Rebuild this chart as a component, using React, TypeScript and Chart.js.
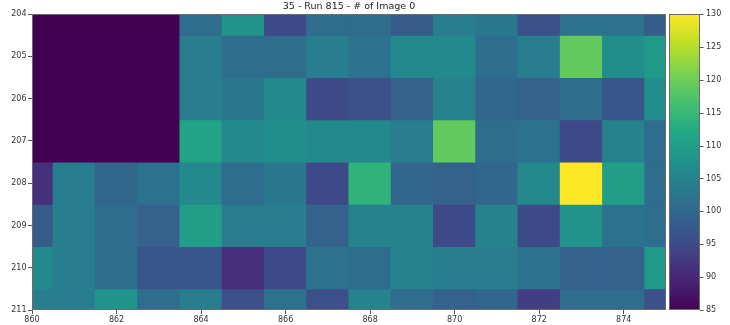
import { useEffect, useRef } from 'react';
import { Chart, registerables } from 'chart.js';

Chart.register(...registerables);

const TITLE = '35 - Run 815 - # of Image 0';

// Pixel columns (x) and rows (y) of the image.
const columns = [860, 861, 862, 863, 864, 865, 866, 867, 868, 869, 870, 871, 872, 873, 874, 875];
const rows = [204, 205, 206, 207, 208, 209, 210, 211];

// Counts per pixel, one array per row, ordered by column.
const row204 = [85, 85, 85, 85, 101, 108, 95, 101, 101, 98, 104, 103, 96, 102, 102, 98];
const row205 = [85, 85, 85, 85, 104, 101, 101, 104, 102, 106, 106, 101, 104, 119, 107, 109];
const row206 = [85, 85, 85, 85, 104, 103, 106, 95, 96, 99, 105, 100, 99, 101, 97, 107];
const row207 = [85, 85, 85, 85, 111, 106, 107, 106, 106, 104, 119, 101, 102, 95, 105, 101];
const row208 = [91, 104, 100, 102, 106, 101, 103, 95, 114, 100, 99, 100, 106, 130, 110, 101];
const row209 = [98, 104, 101, 99, 110, 104, 104, 99, 105, 105, 95, 105, 95, 108, 102, 101];
const row210 = [106, 104, 101, 97, 97, 91, 95, 102, 101, 105, 104, 104, 102, 99, 99, 109];
const row211 = [104, 104, 108, 101, 104, 96, 102, 96, 105, 101, 99, 100, 93, 101, 101, 96];

const counts = [row204, row205, row206, row207, row208, row209, row210, row211];

const xTicks = [860, 862, 864, 866, 868, 870, 872, 874];
const yTicks = [204, 205, 206, 207, 208, 209, 210, 211];
const colorTicks = [85, 90, 95, 100, 105, 110, 115, 120, 125, 130];

const VMIN = 85;
const VMAX = 130;

const VIRIDIS = [
  '#440154', '#482475', '#414487', '#355f8d', '#2a788e', '#21918c',
  '#22a884', '#44bf70', '#7ad151', '#bddf26', '#fde725',
];

function hexToRgb(h: string): number[] {
  return [1, 3, 5].map((i) => parseInt(h.slice(i, i + 2), 16));
}

function viridis(t: number): string {
  const c = Math.max(0, Math.min(1, t));
  const p = c * (VIRIDIS.length - 1);
  const i = Math.min(Math.floor(p), VIRIDIS.length - 2);
  const f = p - i;
  const a = hexToRgb(VIRIDIS[i]);
  const b = hexToRgb(VIRIDIS[i + 1]);
  const rgb = a.map((v, k) => Math.round(v + (b[k] - v) * f));
  return `rgb(${rgb[0]}, ${rgb[1]}, ${rgb[2]})`;
}

const norm = (v: number) => (v - VMIN) / (VMAX - VMIN);

const FONT = 'DejaVu Sans';
const TEXT = '#333333';
const FRAME = '#6b6b6b';
const BAR_GAP = 3;
const BAR_WIDTH = 31;

// Draws the plot frame and the colour bar beside it.
const frameAndColorbar = {
  id: 'frameAndColorbar',
  afterDraw(chart: any) {
    const { ctx, chartArea } = chart;
    const cb = chart.scales.cb;
    ctx.save();

    ctx.strokeStyle = FRAME;
    ctx.lineWidth = 1;
    ctx.strokeRect(
      Math.round(chartArea.left) + 0.5,
      Math.round(chartArea.top) + 0.5,
      Math.round(chartArea.right - chartArea.left) - 1,
      Math.round(chartArea.bottom - chartArea.top) - 1,
    );

    const x0 = Math.round(chartArea.right) + BAR_GAP;
    const top = cb.getPixelForValue(VMAX);
    const bottom = cb.getPixelForValue(VMIN);
    const grad = ctx.createLinearGradient(0, bottom, 0, top);
    for (let i = 0; i <= 40; i++) {
      grad.addColorStop(i / 40, viridis(i / 40));
    }
    ctx.fillStyle = grad;
    ctx.fillRect(x0, top, BAR_WIDTH, bottom - top);
    ctx.strokeStyle = FRAME;
    ctx.strokeRect(x0 + 0.5, Math.round(top) + 0.5, BAR_WIDTH - 1, Math.round(bottom - top) - 1);

    ctx.strokeStyle = '#555555';
    ctx.beginPath();
    for (const t of cb.ticks) {
      const y = Math.round(cb.getPixelForValue(t.value)) + 0.5;
      ctx.moveTo(x0 + BAR_WIDTH, y);
      ctx.lineTo(x0 + BAR_WIDTH + 3.5, y);
    }
    ctx.stroke();
    ctx.restore();
  },
};

export default function App() {
  const canvasRef = useRef<HTMLCanvasElement | null>(null);

  useEffect(() => {
    document.body.style.margin = '0';
    const canvas = canvasRef.current;
    if (!canvas) return;

    const datasets = rows.map((r, ri) => ({
      label: String(r),
      data: columns.map((c) => ({ x: c, y: [r - 0.5, r + 0.5] })),
      backgroundColor: counts[ri].map((v) => viridis(norm(v))),
      borderWidth: 0,
      grouped: false,
      barPercentage: 1,
      categoryPercentage: 1,
      inflateAmount: 0.5,
      clip: 0,
    }));

    const tickGrid = {
      display: true,
      drawOnChartArea: false,
      drawTicks: true,
      tickLength: 4,
      color: '#555555',
    };

    const chart = new Chart(canvas, {
      type: 'bar',
      data: { datasets } as any,
      options: {
        responsive: false,
        animation: false,
        devicePixelRatio: 1,
        layout: { padding: 0 },
        plugins: {
          legend: { display: false },
          tooltip: { enabled: false },
          title: {
            display: true,
            text: TITLE,
            fullSize: false,
            color: '#222222',
            font: { family: FONT, size: 9.5, weight: 'normal', lineHeight: '12px' } as any,
            padding: { top: 1, bottom: 1 },
          },
        },
        scales: {
          x: {
            type: 'linear',
            min: 860,
            max: 875,
            offset: false,
            grid: { ...tickGrid, offset: false },
            border: { display: false },
            ticks: { color: TEXT, font: { family: FONT, size: 8 }, padding: 1, maxRotation: 0 },
            afterBuildTicks: (s: any) => {
              s.ticks = xTicks.map((value) => ({ value }));
            },
            afterFit: (s: any) => {
              s.height = 15;
            },
          },
          y: {
            type: 'linear',
            reverse: true,
            min: 204,
            max: 211,
            grid: tickGrid,
            border: { display: false },
            ticks: { color: TEXT, font: { family: FONT, size: 8 }, padding: 1.5 },
            afterBuildTicks: (s: any) => {
              s.ticks = yTicks.map((value) => ({ value }));
            },
            afterFit: (s: any) => {
              s.width = 32;
            },
          },
          cb: {
            type: 'linear',
            position: 'right',
            min: VMIN,
            max: VMAX,
            // invisible tick marks reserve the room taken by the colour bar
            grid: {
              display: true,
              drawOnChartArea: false,
              drawTicks: true,
              tickLength: 38,
              color: 'rgba(0,0,0,0)',
            },
            border: { display: false },
            ticks: { color: TEXT, font: { family: FONT, size: 8 }, padding: 2 },
            afterBuildTicks: (s: any) => {
              s.ticks = colorTicks.map((value) => ({ value }));
            },
            afterFit: (s: any) => {
              s.width = 64;
            },
          },
        },
      } as any,
      plugins: [frameAndColorbar],
    });

    return () => chart.destroy();
  }, []);

  return (
    <div style={{ width: 730, height: 325 }}>
      <canvas ref={canvasRef} width={730} height={325} style={{ display: 'block' }} />
    </div>
  );
}
